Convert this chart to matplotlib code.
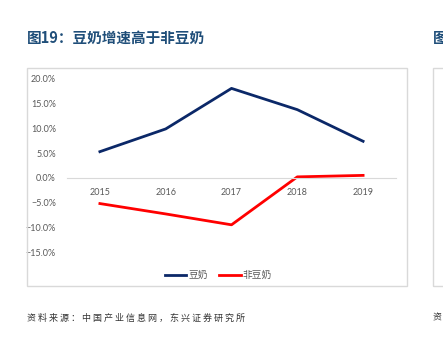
import matplotlib
matplotlib.use('Agg')
import matplotlib.pyplot as plt
from matplotlib.patches import Rectangle
from matplotlib.ticker import PercentFormatter

plt.rcParams['font.family'] = ['Lato', 'Noto Sans CJK SC', 'DejaVu Sans']

years = ['2015', '2016', '2017', '2018', '2019']
dounai = [5.3, 9.9, 18.1, 13.8, 7.4]
fei_dounai = [-5.2, -7.3, -9.5, 0.2, 0.5]

fig = plt.figure(figsize=(4.43, 3.39), dpi=100)
W, H = 443, 339

# chart frames (main one and the cut-off neighbour on the right)
fig.patches.append(Rectangle((27 / W, 1 - 286 / H), 380 / W, 218 / H, transform=fig.transFigure,
                             fill=False, edgecolor='#d9d9d9', linewidth=1))
fig.patches.append(Rectangle((433 / W, 1 - 286 / H), 40 / W, 218 / H, transform=fig.transFigure,
                             fill=False, edgecolor='#d9d9d9', linewidth=1))

ax = fig.add_axes([67 / W, 1 - 252 / H, 329 / W, 173 / H])
x = range(len(years))
ax.plot(x, dounai, color='#0b2868', linewidth=2, label='豆奶')
ax.plot(x, fei_dounai, color='#ff0000', linewidth=2, label='非豆奶')

ax.set_xlim(-0.5, len(years) - 0.5)
ax.set_ylim(-15, 20)
ax.set_yticks(range(-15, 21, 5))
ax.yaxis.set_major_formatter(PercentFormatter(decimals=1))
ax.set_xticks(list(x))
ax.set_xticklabels(years)

for s in ['top', 'right', 'left']:
    ax.spines[s].set_visible(False)
ax.spines['bottom'].set_position(('data', 0))
ax.spines['bottom'].set_color('#d9d9d9')
ax.tick_params(axis='both', length=0, labelsize=6.5, labelcolor='#595959')
ax.tick_params(axis='x', pad=7)
ax.tick_params(axis='y', pad=8)

ax.legend(loc='upper center', bbox_to_anchor=(0.46, -0.06), ncol=2, frameon=False,
          fontsize=7, labelcolor='#595959', handlelength=2.2, handletextpad=0.2,
          columnspacing=1.2)

fig.text(27 / W, 1 - 38 / H, '图19：豆奶增速高于非豆奶', fontsize=10.5, fontweight='bold',
         color='#1f4e79', family=['Noto Sans CJK SC'], va='center')
fig.text(433 / W, 1 - 38 / H, '图', fontsize=10.5, fontweight='bold',
         color='#1f4e79', family=['Noto Sans CJK SC'], va='center')
fig.text(27 / W, 1 - 318 / H, '资 料 来 源 ： 中 国 产 业 信 息 网 ， 东 兴 证 券 研 究 所', fontsize=6.5,
         color='#333333', family=['Noto Sans CJK SC'], va='center', style='italic')
fig.text(433 / W, 1 - 318 / H, '资', fontsize=6.5,
         color='#333333', family=['Noto Sans CJK SC'], va='center')

fig.savefig('out.png', dpi=100)
